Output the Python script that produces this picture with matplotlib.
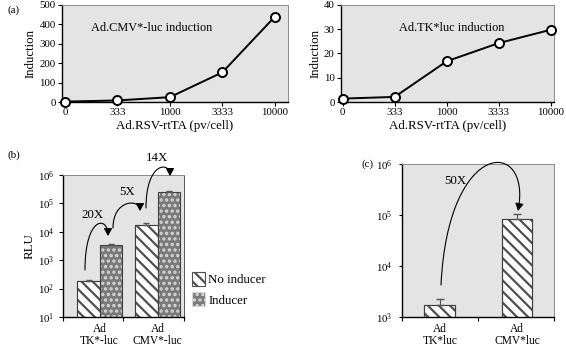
import matplotlib
matplotlib.use("Agg")
import matplotlib.pyplot as plt
from matplotlib.patches import FancyArrowPatch, Patch
from matplotlib.path import Path
import numpy as np

plt.rcParams['font.family'] = ['Liberation Serif', 'DejaVu Serif']
plt.rcParams['hatch.linewidth'] = 1.6
plt.rcParams['mathtext.fontset'] = 'stix'

# ---- data ----
dose_labels = ["0", "333", "1000", "3333", "10000"]
cmv_induction = [2, 8, 25, 153, 440]
tk_induction = [1.4, 2.1, 16.8, 24.3, 29.8]

b_groups = ["Ad\nTK*-luc", "Ad\nCMV*-luc"]
b_no_inducer = [180, 18000]
b_no_inducer_err = [25, 2500]
b_inducer = [3400, 245000]
b_inducer_err = [400, 35000]

c_groups = ["Ad\nTK*luc", "Ad\nCMV*luc"]
c_values = [1750, 82000]
c_err = [550, 25000]

BG = '#e4e4e4'
TFS = 7.8   # tick labels
LFS = 9.3   # axis labels
W, H = 566, 351

fig = plt.figure(figsize=(W / 100, H / 100), dpi=100)


def style_axes(ax):
    ax.set_facecolor(BG)
    for s in ['top', 'right']:
        ax.spines[s].set_color('#8a8a8a')
        ax.spines[s].set_linewidth(0.7)
    for s in ['left', 'bottom']:
        ax.spines[s].set_linewidth(1.0)
    ax.tick_params(labelsize=TFS, length=3, width=0.8, pad=1.5)


def fpt(px, py):
    """pixel position (y down) -> figure fraction"""
    return (px / W, 1 - py / H)


def arc_arrow(start, end, peak_y, c1x=None, c2x=None):
    xs, ys = start
    xe, ye = end
    ysd, yed, ypd = H - ys, H - ye, H - peak_y
    ycd = (ypd - 0.125 * (ysd + yed)) / 0.75
    yc = H - ycd
    c1x = xs if c1x is None else c1x
    c2x = xe if c2x is None else c2x
    pts = [fpt(xs, ys), fpt(c1x, yc), fpt(c2x, yc), fpt(xe, ye)]
    path = Path(pts, [Path.MOVETO, Path.CURVE4, Path.CURVE4, Path.CURVE4])
    arr = FancyArrowPatch(path=path, transform=fig.transFigure,
                          arrowstyle='-|>,head_length=4.5,head_width=2.5',
                          color='black', lw=0.8, zorder=10)
    fig.add_artist(arr)


# ---- panel a left ----
ax1 = fig.add_axes([62/W, 249/H, 226/W, 97/H])
style_axes(ax1)
x = np.arange(len(dose_labels))
ax1.plot(x, cmv_induction, '-o', color='black', lw=1.4, ms=6.5,
         mfc='white', mec='black', mew=1.4, clip_on=False, zorder=3)
ax1.set_xlim(-0.057, 4.25)
ax1.set_ylim(0, 500)
ax1.set_yticks(range(0, 501, 100))
ax1.set_xticks(x)
ax1.set_xticklabels(dose_labels)
ax1.set_xlabel("Ad.RSV-rtTA (pv/cell)", fontsize=LFS, labelpad=2)
ax1.set_ylabel("Induction", fontsize=LFS, labelpad=2)
ax1.text(0.398, 0.763, "Ad.CMV*-luc induction", transform=ax1.transAxes,
         ha='center', va='center', fontsize=8.8)

# ---- panel a right ----
ax2 = fig.add_axes([341/W, 249/H, 213/W, 97/H])
style_axes(ax2)
ax2.plot(x, tk_induction, '-o', color='black', lw=1.4, ms=6.5,
         mfc='white', mec='black', mew=1.4, clip_on=False, zorder=3)
ax2.set_xlim(-0.03, 4.06)
ax2.set_ylim(0, 40)
ax2.set_yticks(range(0, 41, 10))
ax2.set_xticks(x)
ax2.set_xticklabels(dose_labels)
ax2.set_xlabel("Ad.RSV-rtTA (pv/cell)", fontsize=LFS, labelpad=2)
ax2.set_ylabel("Induction", fontsize=LFS, labelpad=2)
ax2.text(0.52, 0.763, "Ad.TK*luc induction", transform=ax2.transAxes,
         ha='center', va='center', fontsize=8.8)

# ---- panel b ----
ax3 = fig.add_axes([63/W, 34/H, 121/W, 142/H])
style_axes(ax3)
ax3.spines['right'].set_color('#555555')
ax3.set_yscale('log')
ax3.set_ylim(10, 1e6)
gx = np.arange(len(b_groups))
w = 0.38
ax3.bar(gx - w/2, b_no_inducer, w, facecolor='white', edgecolor='#505050',
        hatch='\\\\\\', linewidth=0.8, zorder=2)
ax3.bar(gx - w/2, b_no_inducer, w, facecolor='none', edgecolor='#404040',
        linewidth=0.8, zorder=3)
ax3.errorbar(gx - w/2, b_no_inducer, yerr=[[0, 0], b_no_inducer_err], fmt='none',
             ecolor='#555555', elinewidth=0.7, capsize=2.5, zorder=4)
ax3.bar(gx + w/2, b_inducer, w, facecolor='#7a7a7a', edgecolor='#d8d8d8',
        hatch='...', linewidth=0, zorder=2)
ax3.bar(gx + w/2, b_inducer, w, facecolor='none', edgecolor='#404040',
        linewidth=0.8, zorder=3)
ax3.errorbar(gx + w/2, b_inducer, yerr=[[0, 0], b_inducer_err], fmt='none',
             ecolor='#555555', elinewidth=0.7, capsize=2.5, zorder=4)
ax3.set_xlim(-0.63, 1.457)
ax3.set_xticks(gx)
ax3.set_xticklabels(b_groups, fontsize=8.3, linespacing=1.1)
ax3.tick_params(axis='x', length=0, pad=4)
ax3.set_xticks([-0.63, 0.41, 1.457], minor=True)
ax3.tick_params(axis='x', which='minor', length=3, width=0.8)
ax3.set_yticks([1e1, 1e2, 1e3, 1e4, 1e5, 1e6])
ax3.yaxis.set_minor_locator(matplotlib.ticker.NullLocator())
ax3.tick_params(axis='y', pad=3)
ax3.set_ylabel("RLU", fontsize=LFS, labelpad=2)

for txt, (px, py) in [("20X", (92, 215)), ("5X", (127, 192)), ("14X", (157, 158))]:
    fig.text(*fpt(px, py), txt, ha='center', va='center', fontsize=9.3)
arc_arrow((85, 270), (108, 236), 225)
arc_arrow((113, 228), (140, 211), 204)
arc_arrow((146, 208), (170, 176), 169)

leg_handles = [Patch(facecolor='white', edgecolor='#505050', hatch='\\\\\\', linewidth=0.8),
               Patch(facecolor='#7a7a7a', edgecolor='#d8d8d8', hatch='...', linewidth=0.8)]
leg = fig.legend(leg_handles, ["No inducer", "Inducer"], loc='upper left',
                 bbox_to_anchor=fpt(192, 272), frameon=False,
                 fontsize=9.3, handlelength=1.0, handleheight=1.3,
                 handletextpad=0.25, labelspacing=0.45, borderpad=0,
                 borderaxespad=0)

# ---- panel c ----
ax4 = fig.add_axes([402/W, 34/H, 152/W, 153/H])
style_axes(ax4)
ax4.set_yscale('log')
ax4.set_ylim(1e3, 1e6)
cx = np.arange(len(c_groups))
ax4.bar(cx, c_values, 0.4, facecolor='white', edgecolor='#505050',
        hatch='\\\\\\', linewidth=0.8, zorder=2)
ax4.bar(cx, c_values, 0.4, facecolor='none', edgecolor='#404040',
        linewidth=0.8, zorder=3)
ax4.errorbar(cx, c_values, yerr=[[0, 0], c_err], fmt='none', ecolor='#555555',
             elinewidth=0.8, capsize=3, zorder=4)
ax4.set_xlim(-0.49, 1.48)
ax4.set_xticks(cx)
ax4.set_xticklabels(c_groups, fontsize=8.3, linespacing=1.1)
ax4.tick_params(axis='x', length=0, pad=4)
ax4.set_xticks([-0.49, 0.49, 1.48], minor=True)
ax4.tick_params(axis='x', which='minor', length=3, width=0.8)
ax4.set_yticks([1e3, 1e4, 1e5, 1e6])
ax4.yaxis.set_minor_locator(matplotlib.ticker.NullLocator())
ax4.tick_params(axis='y', length=2, pad=5)
fig.text(*fpt(455, 181), "50X", ha='center', va='center', fontsize=9.3)
arc_arrow((441, 285), (518, 211), 165, c1x=448, c2x=532)

fig.text(*fpt(8, 10), "(a)", fontsize=8, ha='left', va='center')
fig.text(*fpt(8, 155), "(b)", fontsize=8, ha='left', va='center')
fig.text(*fpt(362, 164), "(c)", fontsize=8, ha='left', va='center')

fig.savefig("out.png", dpi=100)
